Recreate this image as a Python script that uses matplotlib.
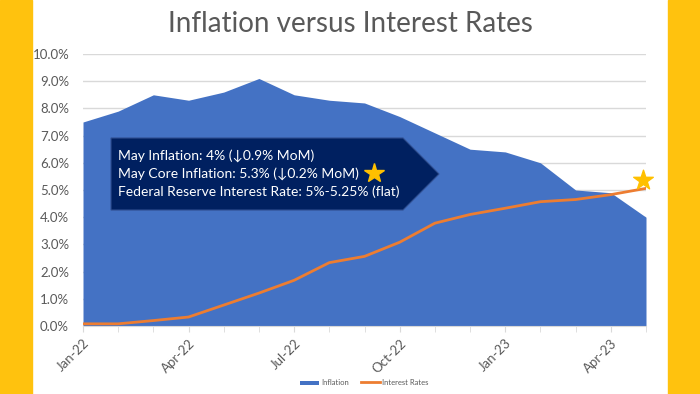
import matplotlib
matplotlib.use("Agg")
import matplotlib.pyplot as plt
from matplotlib.patches import Polygon, Rectangle
from matplotlib.lines import Line2D

plt.rcParams['font.family'] = ['Lato', 'DejaVu Sans']

months = ['Jan-22', 'Feb-22', 'Mar-22', 'Apr-22', 'May-22', 'Jun-22', 'Jul-22', 'Aug-22',
          'Sep-22', 'Oct-22', 'Nov-22', 'Dec-22', 'Jan-23', 'Feb-23', 'Mar-23', 'Apr-23', 'May-23']
inflation = [7.5, 7.9, 8.5, 8.3, 8.6, 9.1, 8.5, 8.3, 8.2, 7.7, 7.1, 6.5, 6.4, 6.0, 5.0, 4.9, 4.0]
interest = [0.08, 0.08, 0.20, 0.33, 0.77, 1.21, 1.68, 2.33, 2.56, 3.08, 3.78, 4.10, 4.33, 4.57, 4.65, 4.83, 5.06]
star_value = 5.35

box_lines = ['May Inflation: 4% (\u21930.9% MoM)',
             'May Core Inflation: 5.3% (\u21930.2% MoM)',
             'Federal Reserve Interest Rate: 5%-5.25% (flat)']

W, H = 700, 394
fig = plt.figure(figsize=(7, 3.94), dpi=100)

def fx(px):
    return px / W

def fy(py):
    return 1 - py / H

# yellow side bars
fig.add_artist(Rectangle((0, 0), fx(32), 1, transform=fig.transFigure, color='#FFC20E', zorder=0))
fig.add_artist(Rectangle((fx(668), 0), fx(32), 1, transform=fig.transFigure, color='#FFC20E', zorder=0))

ax = fig.add_axes([fx(83), fy(326), fx(646 - 83), fy(54) - fy(326)])
x = list(range(len(months)))

ax.fill_between(x, inflation, 0, color='#4472C4', linewidth=0, label='Inflation', zorder=2)
ax.plot(x, interest, color='#ED7D31', linewidth=2, label='Interest Rates', zorder=3)
ax.scatter([x[-1] - 0.08], [star_value], marker='*', s=220, color='#FFC000', zorder=5, clip_on=False)

ax.set_xlim(0, len(months) - 1)
ax.set_ylim(0, 10)
ax.set_yticks([i for i in range(11)])
ax.set_yticklabels([f'{i:.1f}%' for i in range(11)], fontsize=9.5, color='#595959')
ax.set_xticks(x[::3])
ax.set_xticklabels(months[::3], rotation=45, ha='right', rotation_mode='anchor', fontsize=9.5, color='#595959')
ax.set_xticks(x, minor=True)
ax.tick_params(axis='y', length=0, pad=10)
ax.tick_params(axis='x', which='both', length=4, color='#d9d9d9', pad=4)
ax.grid(axis='y', color='#d9d9d9', linewidth=1, zorder=1)
ax.set_axisbelow(True)
for s in ['top', 'right', 'left']:
    ax.spines[s].set_visible(False)
ax.spines['bottom'].set_color('#d9d9d9')

fig.text(0.5, fy(24), 'Inflation versus Interest Rates', ha='center', va='center', fontsize=20, color='#595959')

# callout arrow box
pts = [(111, 138), (403, 138), (439, 174), (403, 210), (111, 210)]
fig.add_artist(Polygon([(fx(px), fy(py)) for px, py in pts], closed=True, transform=fig.transFigure,
                       facecolor='#002060', edgecolor='#2F4E8F', linewidth=0.8, zorder=10))
for i, line in enumerate(box_lines):
    fig.text(fx(118), fy(156 + 18 * i), line, ha='left', va='center', fontsize=10, color='white', zorder=11)
fig.add_artist(Line2D([fx(374)], [fy(173)], marker='*', markersize=15, color='#FFC000',
                      transform=fig.transFigure, zorder=12))

leg = ax.legend(loc='upper center', bbox_to_anchor=(0.5, -0.17), ncol=2, frameon=False,
                fontsize=5.5, labelcolor='#595959', handlelength=2.5, handletextpad=0.3, columnspacing=1.5)
leg.legend_handles[0].set_height(3)

fig.savefig('out.png', dpi=100)
